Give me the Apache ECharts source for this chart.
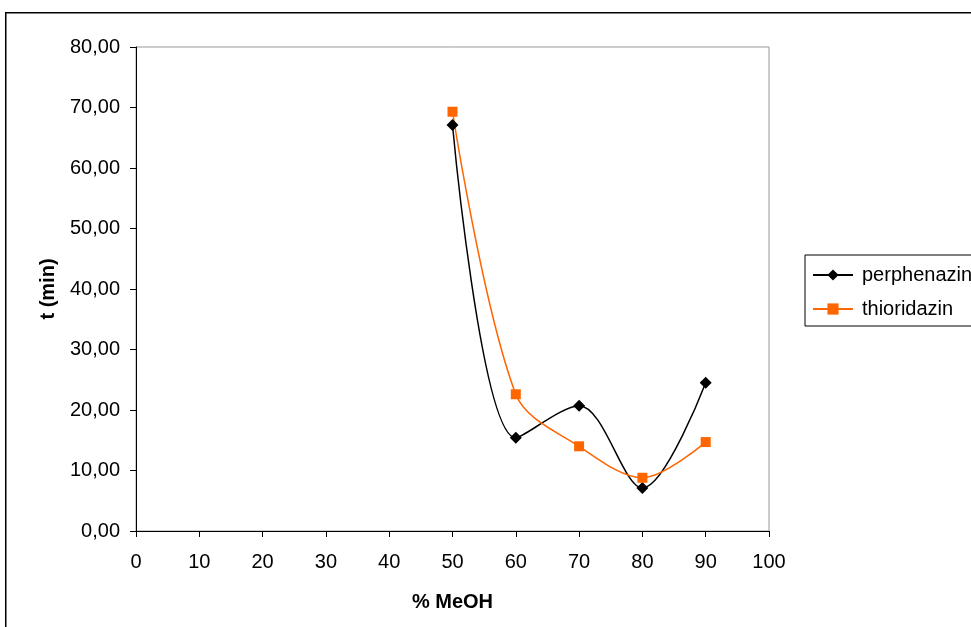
<!DOCTYPE html>
<html>
<head>
<meta charset="utf-8">
<script src="https://cdn.jsdelivr.net/npm/echarts@6/dist/echarts.min.js"></script>
<style>html,body{margin:0;padding:0;background:#fff;}#c{width:971px;height:627px;}</style>
</head>
<body>
<div id="c"></div>
<script>
const xValues = [50, 60, 70, 80, 90];
const perphenazin = [67.1, 15.4, 20.7, 7.1, 24.5];
const thioridazin = [69.3, 22.6, 14.0, 8.8, 14.7];
const seriesNames = ['perphenazin', 'thioridazin'];

const font = 'Liberation Sans, Arial, sans-serif';
const chart = echarts.init(document.getElementById('c'));
chart.setOption({
  animation: false,
  backgroundColor: '#fff',
  graphic: [{
    type: 'rect', left: 5, top: 12, z: -10,
    shape: {x: 0, y: 0, width: 1100, height: 800},
    style: {fill: '#fff', stroke: '#000', lineWidth: 1.5}
  }],
  grid: {left: 136, top: 47, right: 202, bottom: 96, show: true, borderColor: '#999', borderWidth: 1, backgroundColor: 'transparent'},
  legend: {
    orient: 'vertical', left: 805, top: 255,
    borderColor: '#000', borderWidth: 1, padding: [10, 40, 7, 7],
    itemWidth: 40, itemHeight: 14, itemGap: 14,
    textStyle: {fontFamily: font, fontSize: 20, color: '#000', padding: [0, 0, 0, 4]},
    data: seriesNames
  },
  xAxis: {
    type: 'value', min: 0, max: 100, interval: 10,
    name: '% MeOH', nameLocation: 'middle', nameGap: 61,
    nameTextStyle: {fontFamily: font, fontSize: 20, fontWeight: 'bold', color: '#000'},
    axisLine: {show: true, lineStyle: {color: '#000', width: 1}},
    axisTick: {show: true, length: 6, lineStyle: {color: '#000'}},
    axisLabel: {fontFamily: font, fontSize: 20, color: '#000', margin: 21},
    splitLine: {show: false}
  },
  yAxis: {
    type: 'value', min: 0, max: 80, interval: 10,
    name: 't (min)', nameLocation: 'middle', nameGap: 78,
    nameTextStyle: {fontFamily: font, fontSize: 20, fontWeight: 'bold', color: '#000'},
    axisLine: {show: true, lineStyle: {color: '#000', width: 1}},
    axisTick: {show: true, length: 6, lineStyle: {color: '#000'}},
    axisLabel: {fontFamily: font, fontSize: 20, color: '#000', margin: 16,
      formatter: v => v.toFixed(2).replace('.', ',')},
    splitLine: {show: false}
  },
  series: [
    {
      name: seriesNames[0], type: 'line', smooth: 0.33,
      data: xValues.map((x, i) => [x, perphenazin[i]]),
      symbol: 'diamond', symbolSize: 12,
      itemStyle: {color: '#000'}, lineStyle: {color: '#000', width: 1.5}
    },
    {
      name: seriesNames[1], type: 'line', smooth: 0.33,
      data: xValues.map((x, i) => [x, thioridazin[i]]),
      symbol: 'rect', symbolSize: 10,
      itemStyle: {color: '#FF6600'}, lineStyle: {color: '#FF6600', width: 1.5}
    }
  ]
});
</script>
</body>
</html>
